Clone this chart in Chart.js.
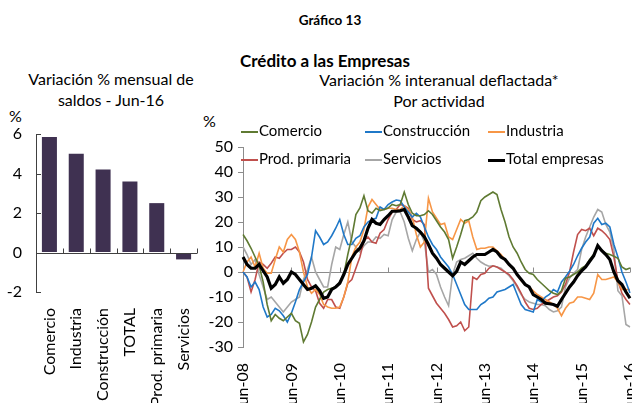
<!DOCTYPE html>
<html>
<head>
<meta charset="utf-8">
<script src="https://cdn.jsdelivr.net/npm/chart.js@4.4.1/dist/chart.umd.min.js"></script>
<style>
  body { margin: 0; width: 632px; height: 403px; overflow: hidden; background: #fff; font-family: Lato, "Open Sans", sans-serif; color: #000; position: relative; }
  .txt { position: absolute; text-align: center; white-space: nowrap; }
  canvas { position: absolute; }
  .leg { position: absolute; font-size: 15px; line-height: 18px; white-space: nowrap; }
  .leg span { display: inline-block; width: 17px; vertical-align: middle; margin-right: 1px; }
</style>
</head>
<body>
<div class="txt" style="left:230px;top:12px;width:200px;font-weight:bold;font-size:13.5px;line-height:16px;">Gráfico 13</div>
<div class="txt" style="left:200px;top:51px;width:250px;font-weight:bold;font-size:17px;line-height:20px;">Crédito a las Empresas</div>
<div class="txt" style="left:0px;top:68px;width:222px;font-size:16px;line-height:21px;">Variación % mensual de<br>saldos - Jun-16</div>
<div class="txt" style="left:300px;top:69px;width:278px;font-size:16px;line-height:21px;">Variación % interanual deflactada*<br>Por actividad</div>
<div class="txt" style="left:9px;top:106px;font-size:16px;">%</div>
<div class="txt" style="left:203px;top:111px;font-size:16px;">%</div>

<canvas id="barChart" width="210" height="298" style="left:0;top:105px;"></canvas>
<canvas id="lineChart" width="437" height="293" style="left:195px;top:110px;"></canvas>
<div id="legend"></div>

<script>
// Panel izquierdo: variación mensual de saldos, Jun-16
const barLabels = ['Comercio', 'Industria', 'Construcción', 'TOTAL', 'Prod. primaria', 'Servicios'];
const barValues = [5.85, 5.0, 4.2, 3.6, 2.5, -0.35];

// Panel derecho: variación interanual deflactada, mensual Jun-08 .. Jun-16
const tickLabels = ['Jun-08', 'Jun-09', 'Jun-10', 'Jun-11', 'Jun-12', 'Jun-13', 'Jun-14', 'Jun-15', 'Jun-16'];
const seriesNames = ['Comercio', 'Construcción', 'Industria', 'Prod. primaria', 'Servicios', 'Total empresas'];

const comercio = [
  15, 12.5, 9.5, 6, 2.5, -4, -13, -19.5, -17, -18.5,
  -19.5, -18, -16.5, -19.5, -20.5, -28, -25, -20, -14, -11,
  -8, -7, -6.5, -6, -4, -1, 7, 14, 23, 25.6,
  30.5, 24.5, 23.5, 25.5, 24.5, 25, 25.6, 27, 26.5, 27,
  32, 27, 23.5, 22.5, 22.5, 23, 24.5, 23, 20.5, 18,
  16, 13, 5.5, 10, 15, 20.5, 21, 22, 24, 28.5,
  30, 31, 32, 31, 25, 20, 14, 10, 7.5, 4,
  1, -0.5, -1, -3, -4.5, -6, -7.5, -8.5, -9, -7.5,
  -2.5, -2, -1, 0, 1.5, 2.5, 5, 7, 10, 8.5,
  7.5, 7, 6.3, 5.5, 2, 1, 1.6
];
const construccion = [
  0, -2, -6, -4, -7, -14, -18, -17, -14.5, -15.5,
  -17.5, -20, -16.5, -12, -7, -4, -1, 6, 16.5, 14,
  11, 12, 14.5, 17.5, 21, 15, 11, 11, 13.5, 14.5,
  18, 20, 21, 21.5, 26, 25, 27, 28, 28.8, 28.5,
  26, 24, 22, 23.5, 22, 18, 14, 11, 9, 6,
  4, 2, -1, -5, -9, -13, -15, -15, -15, -13,
  -12, -10.5, -10, -8, -7.5, -7, -6, -5, -9, -13,
  -15, -15.5, -16, -11, -12, -10, -9, -7, -8, -4,
  -2, 0.3, 3, 6.5, 9.5, 12, 14, 19.5, 21.5, 19,
  19.5, 18, 11, 6, 0, -4, -8.4
];
const industria = [
  0, 4, 6, 2, 7.5, 1.5, -0.5, -0.5, 5, 10,
  8, 13, 15, 13, 8, 0, -6, -8.5, -7, -9,
  -13, -14, -14.5, -14.5, -14, -10, -4, 6, 10, 12,
  17, 26, 29, 27, 25, 25, 25.5, 25.5, 25, 25,
  26.5, 25, 22, 15, 10, 12, 29.5, 24, 21.5, 19,
  19.5, 14, 13, 17, 21, 19.5, 20.5, 14, 9, 9.5,
  9.5, 10, 10, 8.5, 7, 5, 3, 1.5, -1, -3.5,
  -5, -6, -7.5, -9, -10, -11, -12, -13, -14.5, -17.5,
  -14.5, -12.5, -12, -10, -10, -10.5, -11, -8.5, -1, -3,
  -3, -2.5, -2, -4, -7, -7, -7
];
const prodPrimaria = [
  0, -2, -8, -3, 4, 3, 1.5, 3.5, 6, 5.5,
  7.5, 9, 9, 10, 8, 4, -3, -6, -7.5, -12.5,
  -14.5, -11, -11, -14, -14.5, -10, -4.5, -3, 1.5, 6,
  12.5, 14, 12, 11.5, 15.5, 17, 21, 24, 25, 27,
  26.5, 25.5, 21, 20, 20.5, 19, -6.5, -9.5, -12.5, -14.5,
  -16.5, -19, -22, -21.5, -20, -23.5, -22, -2, -3, -1,
  -0.5, 1.5, 2.5, 2, 1, 0, -1, -3, -5.5, -8.5,
  -12, -14.5, -15, -14.5, -13, -12, -11, -10, -9.5, -8,
  -5, 0, 8, 15, 17, 16.5, 17.5, 14.5, 17.5, 16.5,
  15, 13, 6, -3.5, -8.5, -11, -13
];
const servicios = [
  10, 7, 3, 5, -1, -6, -11, -10, -12, -14,
  -16, -14, -12, -11, -10, -3, 1, 6, 0, -3,
  -6, -6, 3, 10, 9, 15, 20, 12, 10, 8,
  10.5, 12, 12, 14, 13.5, 15, 14.5, 21, 24, 24,
  20, 13.5, 8.5, 13, 16, 12, 0, 1, -1, -6,
  -10, -13.5, -1, 4, 5, 5.5, 6.5, 7.5, 5.5, 4,
  3, 2.3, 2.5, 2, 1.5, 0, -1.5, -3.5, -6, -9,
  -11, -12, -12.5, -13, -13, -13.5, -15, -16, -15.5, -14,
  -6, -2.5, -0.5, 1, 9, 14, 18, 22, 25, 24,
  19, 16, 9, -7.5, -9.5, -21, -22
];
const totalEmpresas = [
  6, 3, 1.5, 1.5, 3, 0.5, -2, -6.5, -5, -2,
  -4.5, -3, 0, -1, -3, -5, -7, -6.5, -5.5, -7.5,
  -10.5, -10, -7, -6, -4.5, -1, 3, 5.5, 8, 9.5,
  12.5, 17.5, 21, 19.5, 19, 21, 22.5, 24.3, 24.3, 24.5,
  25, 22, 18.5, 17.5, 16, 14, 11, 7.5, 5.5, 3,
  1.5, 0, -1.5, 0.3, 4, 3, 4.5, 6, 7, 7,
  7, 8, 9, 8, 6, 5, 3, 1.5, -1, -3,
  -5, -6, -9, -10, -11, -12.5, -12.7, -13, -13.7, -11,
  -8.5, -6, -4, -1.5, 0.5, 2, 4.3, 6.5, 10.5, 8.5,
  7, 5, 0, -3.5, -5, -8, -10.5
];

const seriesData = [comercio, construccion, industria, prodPrimaria, servicios, totalEmpresas];
const seriesColors = ['#5f7a32', '#1f78c8', '#f79646', '#c0504d', '#a6a6a6', '#000000'];

// etiquetas mensuales del eje (solo se muestran los junios)
const mesNombres = ['Jun', 'Jul', 'Ago', 'Sep', 'Oct', 'Nov', 'Dic', 'Ene', 'Feb', 'Mar', 'Abr', 'May'];
const months = totalEmpresas.map((_, i) => mesNombres[i % 12] + '-' + String(8 + Math.floor((i + 5) / 12)).padStart(2, '0'));

const FONT = 'Lato, "Open Sans", sans-serif';

// eje en cero con marcas de categoría
const zeroAxis = {
    id: 'zeroAxis',
    beforeDatasetsDraw(chart, args, opts) {
        if (!opts.front) drawZero(chart, opts);
    },
    afterDatasetsDraw(chart, args, opts) {
        if (opts.front) drawZero(chart, opts);
        if (opts.yInside) {
            const { ctx, scales: { y } } = chart;
            ctx.save();
            ctx.strokeStyle = opts.color;
            ctx.lineWidth = 1;
            ctx.beginPath();
            y.ticks.forEach(t => {
                const py = Math.round(y.getPixelForValue(t.value)) + 0.5;
                ctx.moveTo(y.right, py);
                ctx.lineTo(y.right + 5, py);
            });
            ctx.stroke();
            ctx.restore();
        }
    }
};

function drawZero(chart, opts) {
    const { ctx, chartArea, scales: { x, y } } = chart;
    const y0 = Math.round(y.getPixelForValue(0)) + 0.5;
    ctx.save();
    ctx.strokeStyle = opts.color;
    ctx.lineWidth = 1;
    ctx.beginPath();
    ctx.moveTo(chartArea.left, y0);
    ctx.lineTo(chartArea.right, y0);
    opts.ticks(chart).forEach(px => {
        const p = Math.round(px) + 0.5;
        ctx.moveTo(p, y0);
        ctx.lineTo(p, y0 - 5);
    });
    ctx.stroke();
    ctx.restore();
}

new Chart(document.getElementById('barChart'), {
    type: 'bar',
    data: {
        labels: barLabels,
        datasets: [{
            data: barValues,
            backgroundColor: '#3f3151',
            barPercentage: 0.56,
            categoryPercentage: 1
        }]
    },
    options: {
        responsive: false,
        animation: false,
        devicePixelRatio: 1,
        layout: { padding: { top: 29, right: 13, left: 0, bottom: 0 } },
        plugins: {
            legend: { display: false },
            tooltip: { enabled: false },
            zeroAxis: {
                front: true,
                yInside: true,
                color: '#404040',
                ticks: chart => {
                    const x = chart.scales.x;
                    return barLabels.map((_, i) => x.left + (i + 1) * x.width / barLabels.length);
                }
            }
        },
        scales: {
            x: {
                grid: { display: false },
                border: { display: false },
                ticks: {
                    color: '#000',
                    font: { family: FONT, size: 16 },
                    minRotation: 90,
                    maxRotation: 90,
                    autoSkip: false,
                    padding: 8
                },
                afterFit: s => { s.height = 111; s.paddingLeft = 0; s.paddingRight = 0; }
            },
            y: {
                min: -2,
                max: 6,
                ticks: { stepSize: 2, color: '#000', font: { family: FONT, size: 16 }, padding: 14 },
                grid: { drawOnChartArea: false, drawTicks: false },
                border: { color: '#404040' },
                afterFit: s => { s.width = 36; }
            }
        }
    },
    plugins: [zeroAxis]
});

new Chart(document.getElementById('lineChart'), {
    type: 'line',
    data: {
        labels: months,
        datasets: seriesNames.map((name, i) => ({
            label: name,
            data: seriesData[i],
            borderColor: seriesColors[i],
            borderWidth: i === 5 ? 3.2 : 1.6,
            pointRadius: 0,
            tension: 0,
            fill: false,
            order: i === 5 ? 0 : i + 1
        }))
    },
    options: {
        responsive: false,
        animation: false,
        devicePixelRatio: 1,
        layout: { padding: { top: 37, right: 2, left: 0, bottom: 0 } },
        plugins: {
            legend: { display: false },
            tooltip: { enabled: false },
            zeroAxis: {
                front: false,
                color: '#8c8c8c',
                ticks: chart => tickLabels.map((_, k) => chart.scales.x.getPixelForValue(k * 12))
            }
        },
        scales: {
            x: {
                grid: { display: false },
                border: { display: false },
                ticks: {
                    color: '#000',
                    font: { family: FONT, size: 16 },
                    minRotation: 90,
                    maxRotation: 90,
                    autoSkip: false,
                    padding: 8,
                    callback: (v, i) => (i % 12 === 0 ? tickLabels[i / 12] : null)
                },
                afterFit: s => { s.height = 56; s.paddingLeft = 0; s.paddingRight = 0; }
            },
            y: {
                min: -30,
                max: 50,
                ticks: { stepSize: 10, color: '#000', font: { family: FONT, size: 16 }, padding: 5 },
                grid: { drawOnChartArea: false, tickLength: 5, color: '#8c8c8c' },
                border: { color: '#8c8c8c' },
                afterFit: s => { s.width = 48; }
            }
        }
    },
    plugins: [zeroAxis]
});

// leyenda en tres columnas, como en el original
const legendEl = document.getElementById('legend');
const colX = [241, 365, 488];
const rowY = [121, 149];
legendEl.innerHTML = seriesNames.map((name, i) => {
    const h = i === 5 ? 3 : 2;
    return `<div class="leg" style="left:${colX[i % 3]}px;top:${rowY[Math.floor(i / 3)]}px;">` +
        `<span style="height:${h}px;background:${seriesColors[i]};"></span>${name}</div>`;
}).join('');
</script>
</body>
</html>
